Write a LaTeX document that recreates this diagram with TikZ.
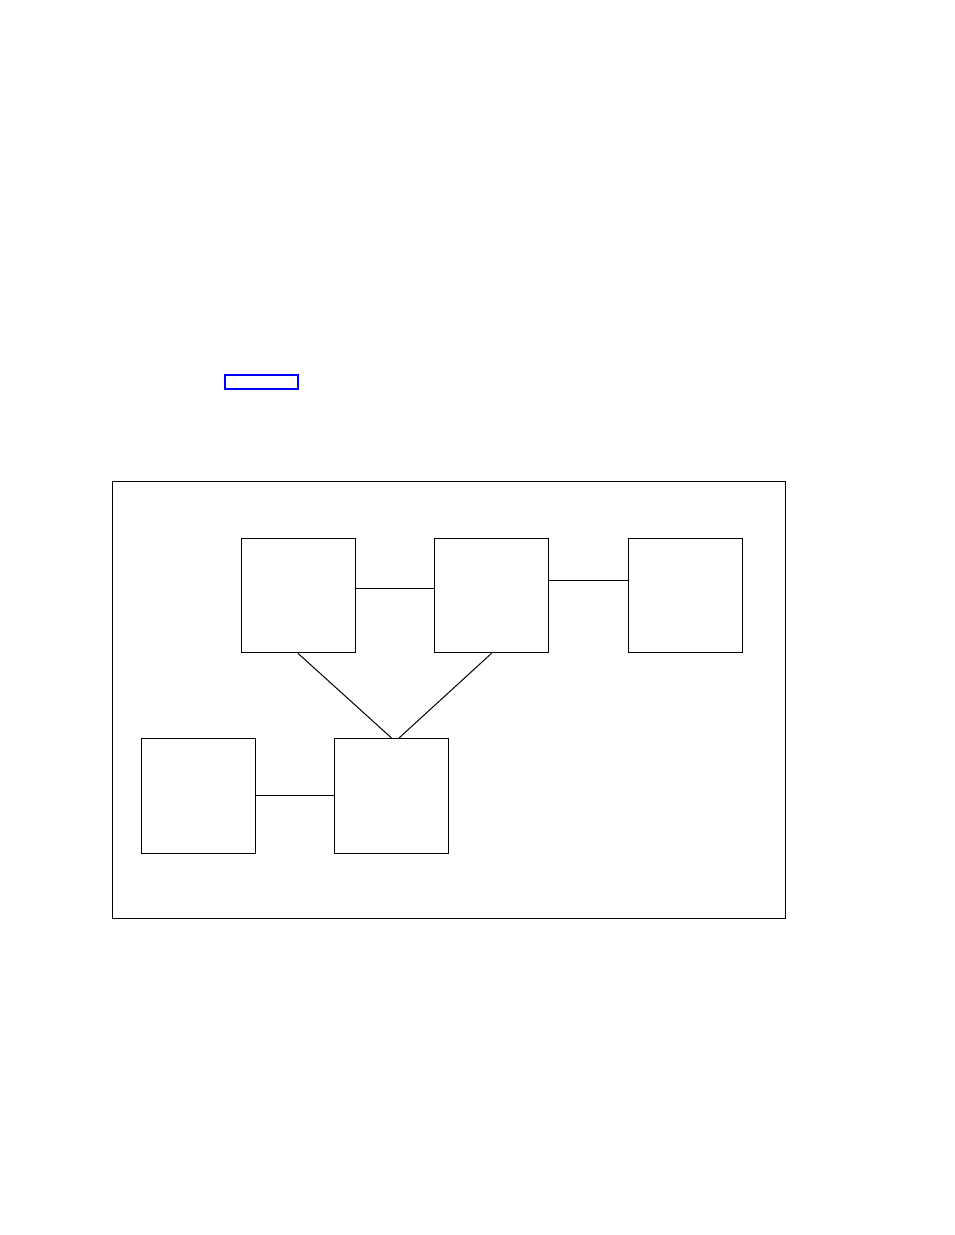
\documentclass[tikz,border=0pt]{standalone}
\usepackage{tikz}
\usetikzlibrary{positioning}
\tikzstyle{ubox}=[rectangle, draw=black, line width=0.75pt, minimum width=85.5pt,
                  minimum height=86pt, inner sep=0pt]
\tikzstyle{frame}=[rectangle, draw=black, line width=0.75pt, minimum width=504.75pt,
                   minimum height=327.75pt, inner sep=0pt]
\tikzstyle{lbox}=[rectangle, draw=blue, line width=1.6pt, minimum width=55pt,
                  minimum height=11pt, inner sep=0pt]
\tikzstyle{pline}=[-, line width=0.75pt]

\begin{document}
\begin{tikzpicture}[x=0.75pt, y=-0.75pt, node distance=0mm]
\useasboundingbox (0,0) rectangle (954,1235);

\node (LINK) [lbox] at (261.5,382) {};

\node (FRAME) [frame] at (448.5,699.5) {};

\node (UA) [ubox] at (298,595.5) {};
\node (UB) [ubox, right=58.9pt of UA] {};
\node (UC) [ubox, right=58.9pt of UB] {};
\node (UE) [ubox, below right=63.5pt and -16.1pt of UA] {};
\node (UD) [ubox, left=58.9pt of UE] {};

 \draw[pline] ([yshift=5.6pt]UA.east) -- ([yshift=5.6pt]UB.west);
 \draw[pline] ([yshift=10.9pt]UB.east) -- ([yshift=10.9pt]UC.west);
 \draw[pline] (UD.east) -- (UE.west);
 \draw[pline] (UA.south) -- (UE.north);
 \draw[pline] (UB.south) -- ([xshift=5.6pt]UE.north);

\end{tikzpicture}
\end{document}
